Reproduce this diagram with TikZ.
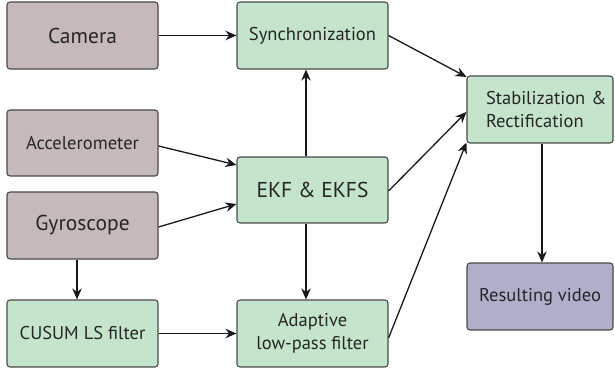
\documentclass[tikz,border=0pt]{standalone}
\usepackage{fontspec}
\setmainfont{PT Sans}
\usetikzlibrary{arrows.meta,calc}
\definecolor{sensor}{HTML}{C5BAB9}
\definecolor{proc}{HTML}{C5E4CC}
\definecolor{outc}{HTML}{B0AFCB}
\definecolor{edge}{HTML}{4A4A4A}
\tikzset{
  box/.style={draw=edge, line width=1.1pt, rounded corners=3pt, minimum width=151pt, minimum height=67pt, inner sep=2pt, text=black!85, align=center},
  sens/.style={box, fill=sensor},
  prc/.style={box, fill=proc},
  res/.style={box, fill=outc},
  big/.style={font=\fontsize{21.5}{25}\selectfont},
  small/.style={font=\fontsize{18.5}{23}\selectfont},
  arr/.style={line width=1.3pt, draw=black!90, -{Stealth[length=11pt,width=9.5pt]}}
}
\begin{document}
\begin{tikzpicture}[x=1pt,y=-1pt]
\useasboundingbox (0,0) rectangle (615,371);
\node[sens,big] (cam) at (82.5,35.5) {Camera};
\node[prc,small] (sync) at (312.5,35.5) {Synchronization};
\node[sens,small, minimum height=66pt] (acc) at (82.5,143) {Accelerometer};
\node[prc,big, minimum height=66pt] (ekf) at (312.5,190) {EKF \& EKFS};
\node[sens,big] (gyro) at (82.5,225.5) {Gyroscope};
\node[prc,small] (cusum) at (82.5,333.5) {CUSUM LS filter};
\node[prc,small] (adapt) at (312.5,333.5) {Adaptive\\low-pass filter};
\node[prc,small, minimum width=146pt, align=left, text width=108pt] (stab) at (540,109.5) {Stabilization\hbox to 0pt{\ \&\hss}\\Rectification};
\node[res,small, minimum width=146pt] (resv) at (540,296.5) {Resulting video};

\draw[arr] (cam.east) -- (sync.west);
\draw[arr] ($(ekf.north)+(-6.5,0)$) -- ($(sync.south)+(-6.5,0)$);
\draw[arr] (sync.east) -- ($(stab.north west)+(0,1.5)$);
\draw[arr] ($(acc.east)+(0,3)$) -- ($(ekf.north west)+(0,8.5)$);
\draw[arr] ($(gyro.east)+(0,1.5)$) -- ($(ekf.west)+(0,14)$);
\draw[arr] ($(gyro.south)+(-5.5,0)$) -- ($(cusum.north)+(-5.5,0)$);
\draw[arr] (cusum.east) -- (adapt.west);
\draw[arr] ($(ekf.south)+(-6.5,0)$) -- ($(adapt.north)+(-6.5,0)$);
\draw[arr] ($(ekf.east)+(0,1)$) -- ($(stab.west)+(0,2.5)$);
\draw[arr] ($(adapt.east)+(0,4.5)$) -- ($(stab.south west)+(0,-1)$);
\draw[arr] ($(stab.south)+(2,0)$) -- ($(resv.north)+(2,0)$);
\end{tikzpicture}
\end{document}
